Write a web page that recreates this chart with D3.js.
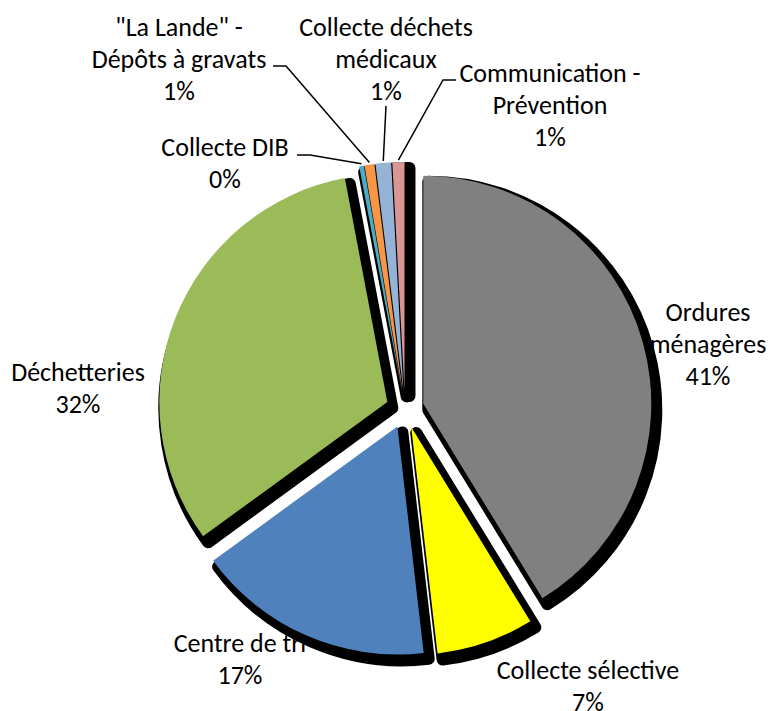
<!DOCTYPE html>
<html>
<head>
<meta charset="utf-8">
<script src="https://cdn.jsdelivr.net/npm/d3@7"></script>
<style>
  body { margin: 0; background: #fff; }
  text { font-family: Carlito, Calibri, Lato, sans-serif; font-size: 26px; fill: #000; }
</style>
</head>
<body>
<svg id="chart" width="771" height="711"></svg>
<script>
// data
var names = [
    ["Ordures", "ménagères"],
    ["Collecte sélective"],
    ["Centre de tri"],
    ["Déchetteries"],
    ["Collecte DIB"],
    ["\"La Lande\" -", "Dépôts à gravats"],
    ["Collecte déchets", "médicaux"],
    ["Communication -", "Prévention"]
]
var values = [41.2, 6.9, 16.8, 32.0, 0.33, 0.7, 1.1, 0.85]
var colors = ["#808080", "#ffff00", "#4f81bd", "#9bbb59", "#4bacc6", "#f79646", "#95b3d7", "#d99694"]

// where the labels sit (centre x, first baseline y) and leader elbows
var labelPos = [[708, 321], [588, 679], [240, 652], [78, 381], [225, 156], [179, 36], [386, 36], [550, 82]]
var leaders = [null, null, null, null,
    [[297, 155], [310, 155]],
    [[273, 66], [286, 66]],
    [[386, 106], [386, 106]],
    [[456, 80], [443, 80]]]

var cx = 405, cy = 409, r = 228, explode = 19
var lineH = 32

var svg = d3.select("#chart")
var total = d3.sum(values)

var pie = d3.pie().sort(null).value(function(d){ return d })
var arcs = pie(values)
var arc = d3.arc().innerRadius(0).outerRadius(r)
var rim = d3.arc().innerRadius(r).outerRadius(r)

function offset(d){
    var a = (d.startAngle + d.endAngle) / 2
    return [cx + explode * Math.sin(a), cy - explode * Math.cos(a)]
}

// labels go first, the pie shadows cover bits of them
var labels = svg.append("g")
arcs.forEach(function(d, i){
    var t = labels.append("text")
        .attr("text-anchor", "middle")
        .attr("x", labelPos[i][0])
        .attr("y", labelPos[i][1])
    var lines = names[i].concat([Math.round(values[i] / total * 100) + "%"])
    lines.forEach(function(l, j){
        t.append("tspan").attr("x", labelPos[i][0]).attr("dy", j == 0 ? 0 : lineH).text(l)
    })
})

// shadows
svg.append("g").selectAll("path")
    .data(arcs)
    .enter()
    .append("path")
    .attr("transform", function(d){ var o = offset(d); return "translate(" + (o[0] + 5) + "," + (o[1] + 6) + ")" })
    .attr("d", arc)
    .attr("fill", "#000")
    .attr("stroke", "#000")
    .attr("stroke-width", 12)
    .attr("stroke-linejoin", "round")

// slices
svg.append("g").selectAll("path")
    .data(arcs)
    .enter()
    .append("path")
    .attr("transform", function(d){ var o = offset(d); return "translate(" + o[0] + "," + o[1] + ")" })
    .attr("d", arc)
    .attr("fill", function(d, i){ return colors[i] })

// leader lines for the thin slices
arcs.forEach(function(d, i){
    if (!leaders[i]) return
    var o = offset(d)
    var p = rim.centroid(d)
    var pts = leaders[i].concat([[o[0] + p[0], o[1] + p[1] - 2]])
    svg.append("path")
        .attr("d", d3.line()(pts))
        .attr("fill", "none")
        .attr("stroke", "#000")
        .attr("stroke-width", 1.5)
})
</script>
</body>
</html>
